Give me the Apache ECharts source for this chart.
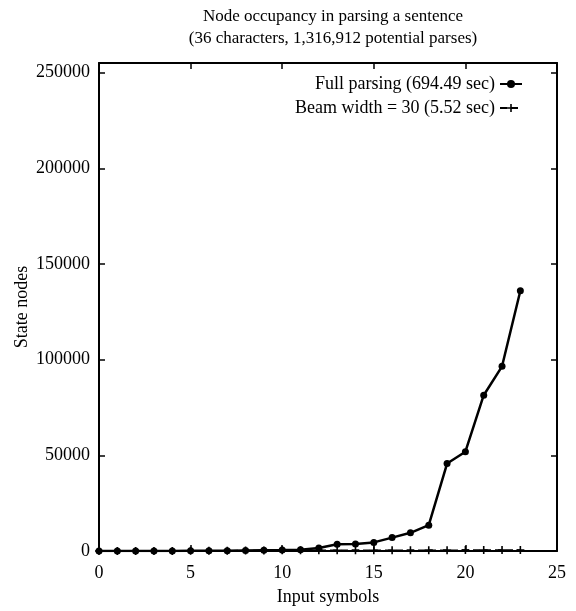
<!DOCTYPE html>
<html lang="en">
<head>
  <meta charset="UTF-8">
  <title>Node occupancy</title>
  <style>
    html, body { margin: 0; padding: 0; background: #fff; }
    #main { width: 576px; height: 611px; }
  </style>
</head>
<body>
<div id="main"></div>
<script src="https://cdn.jsdelivr.net/npm/echarts@6/dist/echarts.min.js"></script>
<script>
  // input symbols 0..23
  const inputSymbols = [0, 1, 2, 3, 4, 5, 6, 7, 8, 9, 10, 11, 12, 13, 14, 15, 16, 17, 18, 19, 20, 21, 22, 23];
  const fullParsing = [1, 5, 15, 30, 50, 80, 120, 180, 260, 360, 480, 700, 1600, 3500, 3600, 4500,
    7000, 9500, 13500, 45700, 51900, 81400, 96500, 136000];
  const beamWidth30 = [1, 5, 15, 30, 50, 80, 120, 180, 250, 300, 330, 350, 370, 390, 400, 410,
    420, 430, 440, 450, 460, 470, 480, 490];
  const xTicks = [0, 5, 10, 15, 20, 25];
  const yTicks = [0, 50000, 100000, 150000, 200000, 250000];

  const font = 'Liberation Serif';
  const plus = 'path://M4,0h2v4h4v2h-4v4h-2v-4h-4v-2h4z';

  const pairs = ys => inputSymbols.map((x, i) => [x, ys[i]]);

  const chart = echarts.init(document.getElementById('main'));

  const tickStyle = { show: true, inside: true, length: 6, lineStyle: { color: '#000', width: 1.5 } };
  const axisLine = { show: true, onZero: false, lineStyle: { color: '#000', width: 2 } };

  chart.setOption({
    animation: false,
    backgroundColor: '#fff',
    textStyle: { fontFamily: font, color: '#000' },
    title: {
      text: 'Node occupancy in parsing a sentence\n(36 characters, 1,316,912 potential parses)',
      left: 328,
      textAlign: 'center',
      top: 1,
      textStyle: { fontFamily: font, fontSize: 17, fontWeight: 'normal', color: '#000', lineHeight: 22 }
    },
    legend: {
      orient: 'vertical',
      right: 48,
      top: 70,
      align: 'right',
      itemGap: 6,
      itemWidth: 22,
      itemHeight: 10,
      textStyle: { fontFamily: font, fontSize: 18, color: '#000' },
      data: ['Full parsing (694.49 sec)', 'Beam width = 30 (5.52 sec)']
    },
    grid: { left: 99, width: 458, top: 63, height: 493 },
    xAxis: [{
      type: 'value',
      min: xTicks[0],
      max: xTicks[xTicks.length - 1],
      interval: 5,
      name: 'Input symbols',
      nameLocation: 'middle',
      nameGap: 37,
      nameTextStyle: { fontFamily: font, fontSize: 18, color: '#000' },
      axisLine: axisLine,
      axisTick: tickStyle,
      axisLabel: { fontFamily: font, fontSize: 18, color: '#000', margin: 13 },
      splitLine: { show: false }
    }, {
      type: 'value',
      position: 'top',
      min: xTicks[0],
      max: xTicks[xTicks.length - 1],
      interval: 5,
      axisLine: axisLine,
      axisTick: tickStyle,
      axisLabel: { show: false },
      splitLine: { show: false }
    }],
    yAxis: [{
      type: 'value',
      min: yTicks[0],
      max: 255000,
      interval: 50000,
      name: 'State nodes',
      nameLocation: 'middle',
      nameGap: 68,
      nameMoveOverlap: false,
      nameTextStyle: { fontFamily: font, fontSize: 18, color: '#000' },
      axisLine: axisLine,
      axisTick: tickStyle,
      axisLabel: { fontFamily: font, fontSize: 18, color: '#000', margin: 9, showMaxLabel: false,
        formatter: v => String(v) },
      splitLine: { show: false }
    }, {
      type: 'value',
      position: 'right',
      min: yTicks[0],
      max: 255000,
      interval: 50000,
      axisLine: axisLine,
      axisTick: tickStyle,
      axisLabel: { show: false },
      splitLine: { show: false }
    }],
    series: [{
      name: 'Full parsing (694.49 sec)',
      type: 'line',
      data: pairs(fullParsing),
      symbol: 'circle',
      symbolSize: 7,
      itemStyle: { color: '#000' },
      lineStyle: { color: '#000', width: 2.5 }
    }, {
      name: 'Beam width = 30 (5.52 sec)',
      type: 'line',
      data: pairs(beamWidth30),
      symbol: plus,
      symbolSize: 8,
      itemStyle: { color: '#000' },
      lineStyle: { color: '#000', width: 1.5, type: [7, 4] }
    }]
  });
</script>
</body>
</html>
